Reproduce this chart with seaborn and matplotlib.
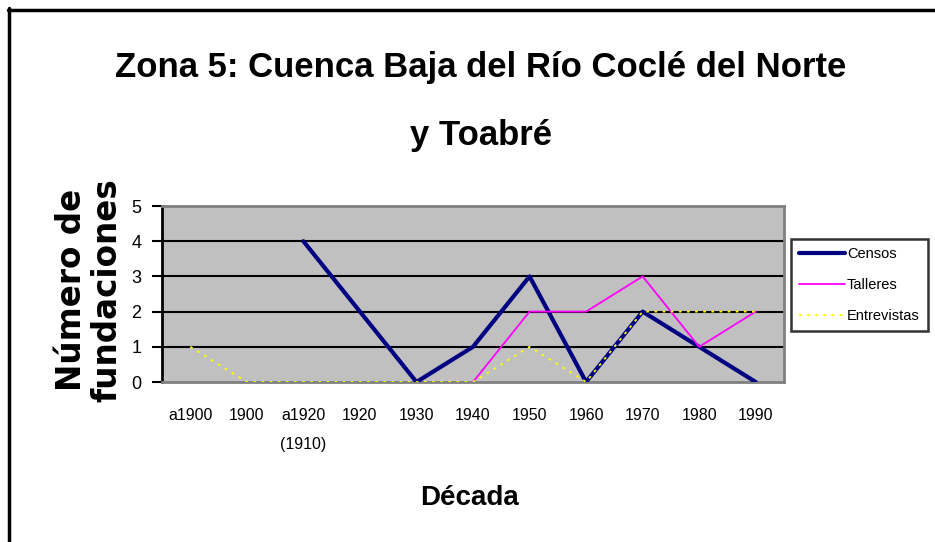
import numpy as np
import pandas as pd
import matplotlib
matplotlib.use("Agg")
import matplotlib.pyplot as plt
from matplotlib.lines import Line2D
import seaborn as sns

decadas = ["a1900", "1900", "a1920\n(1910)", "1920", "1930", "1940",
           "1950", "1960", "1970", "1980", "1990"]
censos = [np.nan, np.nan, 4, 2, 0, 1, 3, 0, 2, 1, 0]
talleres = [np.nan, np.nan, np.nan, np.nan, np.nan, 0, 2, 2, 3, 1, 2]
entrevistas = [1, 0, 0, 0, 0, 0, 1, 0, 2, 2, 2]

sns.set_style("white")
plt.rcParams["font.family"] = ["Liberation Sans", "DejaVu Sans"]
plt.rcParams["text.color"] = "black"
plt.rcParams["xtick.color"] = "black"
plt.rcParams["ytick.color"] = "black"

pos = np.arange(len(decadas))
df = pd.DataFrame({"pos": pos, "Censos": censos, "Talleres": talleres,
                   "Entrevistas": entrevistas})

fig = plt.figure(figsize=(9.35, 5.42), dpi=100)
ax = fig.add_axes([0.1733, 0.2952, 0.6652, 0.3247])
ax.set_facecolor("#c0c0c0")

sns.lineplot(data=df, x="pos", y="Censos", color="#000080", linewidth=3,
             label="Censos", ax=ax, zorder=3)
sns.lineplot(data=df, x="pos", y="Talleres", color="#ff00ff", linewidth=1.3,
             label="Talleres", ax=ax, zorder=4)
sns.lineplot(data=df, x="pos", y="Entrevistas", color="#ffff00", linewidth=1.3,
             linestyle=(0, (1.5, 3)), label="Entrevistas", ax=ax, zorder=5)

ax.set_xlim(-0.5, len(decadas) - 0.5)
ax.set_ylim(0, 5)
ax.set_yticks(range(6))
ax.set_xticks(pos)
ax.set_xticklabels(decadas, fontsize=11.5, linespacing=2.1)
ax.tick_params(axis="x", length=0, pad=19)
ax.tick_params(axis="y", length=7, width=1.5, color="black", pad=8,
               labelsize=13, left=True)
for y in range(1, 5):
    ax.axhline(y, color="black", linewidth=1.5, zorder=1)

for side in ["top", "right", "bottom"]:
    ax.spines[side].set_color("#808080")
    ax.spines[side].set_linewidth(2)
ax.spines["left"].set_color("black")
ax.spines["left"].set_linewidth(2)

ax.set_xlabel("")
ax.set_ylabel("")

leg = ax.legend(loc="upper left", bbox_to_anchor=(1.012, 0.81), frameon=True,
                fancybox=False, edgecolor="black", fontsize=10.5,
                handlelength=3.1, handletextpad=0.15, labelspacing=1.15,
                borderpad=0.55, borderaxespad=0)
leg.get_frame().set_linewidth(1.8)

fig.text(0.514, 1 - 77 / 542, "Zona 5: Cuenca Baja del Río Coclé del Norte",
         ha="center", va="baseline", fontsize=25, fontweight="bold")
fig.text(0.514, 1 - 145 / 542, "y Toabré", ha="center", va="baseline",
         fontsize=25, fontweight="bold")
fig.text(470 / 935, 1 - 505 / 542, "Década", ha="center", va="baseline",
         fontsize=20, fontweight="bold")
fig.text(89 / 935, 1 - 290 / 542, "Número de\nfundaciones", rotation=90,
         ha="center", va="center", fontsize=23.5, fontweight="bold",
         family="DejaVu Sans", linespacing=1.1)

# outer chart border (top and left visible)
fig.add_artist(Line2D([8 / 935, 1], [1 - 9.5 / 542, 1 - 9.5 / 542],
                      color="black", linewidth=2.5))
fig.add_artist(Line2D([9 / 935, 9 / 935], [0, 1 - 8 / 542],
                      color="black", linewidth=2.5))

fig.savefig("out.png", dpi=100)
